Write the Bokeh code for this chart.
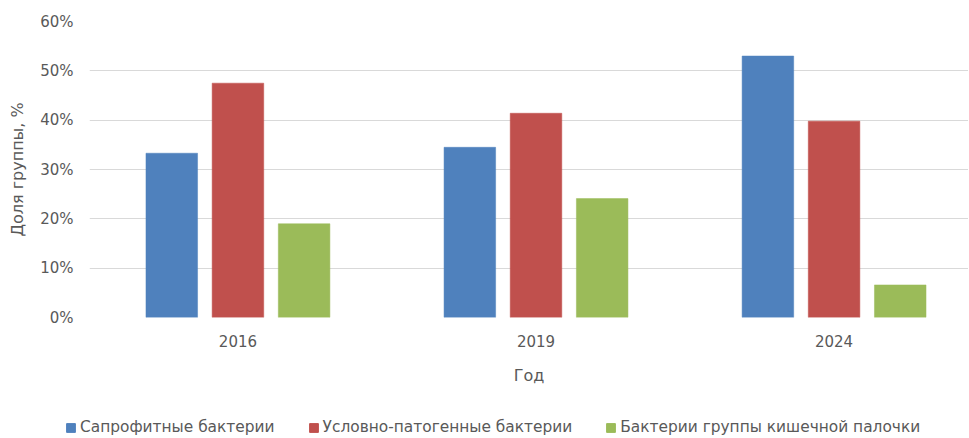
from bokeh.plotting import figure
from bokeh.layouts import column, row
from bokeh.models import (ColumnDataSource, Range1d, FixedTicker, PrintfTickFormatter,
                          Legend, LegendItem)
from bokeh.transform import dodge
from bokeh.embed import file_html
from bokeh.resources import INLINE

# ---- data (percent) ----
years = ["2016", "2019", "2024"]
saprophytic = [33.3, 34.5, 53.0]
opportunistic = [47.5, 41.4, 39.8]
coliform = [19.0, 24.1, 6.6]
series_names = ["Сапрофитные бактерии", "Условно-патогенные бактерии",
                "Бактерии группы кишечной палочки"]
colors = ["#4F81BD", "#C0504D", "#9BBB59"]
y_ticks = [0, 10, 20, 30, 40, 50, 60]

src = ColumnDataSource(dict(x=list(range(len(years))), sap=saprophytic,
                            opp=opportunistic, col=coliform))

FONT = "DejaVu Sans"
TXT = "#595959"
W = 968

p = figure(width=W, height=400, output_backend="svg", toolbar_location=None,
           x_range=Range1d(-0.498, 2.451), y_range=Range1d(0, 60),
           min_border_left=89, min_border_right=0, min_border_top=21,
           min_border_bottom=83)
p.outline_line_color = None
p.background_fill_color = "white"
p.border_fill_color = "white"

offs = [-0.222, 0.0, 0.222]
fields = ["sap", "opp", "col"]
for f, o, c in zip(fields, offs, colors):
    p.vbar(x=dodge("x", o, range=p.x_range), top=f, width=0.173, bottom=0,
           source=src, fill_color=c, line_color=c, line_width=0.5)

# grid
p.xgrid.grid_line_color = None
p.ygrid.grid_line_color = "#D9D9D9"
p.ygrid.grid_line_width = 1
p.ygrid.ticker = FixedTicker(ticks=y_ticks)

# y axis
ya = p.yaxis[0]
ya.ticker = FixedTicker(ticks=y_ticks)
ya.formatter = PrintfTickFormatter(format="%d%%")
ya.axis_line_color = None
ya.major_tick_line_color = None
ya.minor_tick_line_color = None
ya.major_tick_in = 0
ya.major_tick_out = 0
ya.major_label_standoff = 16
ya.major_label_text_font = FONT
ya.major_label_text_font_size = "15px"
ya.major_label_text_color = TXT
ya.axis_label = "Доля группы, %"
ya.axis_label_text_font = FONT
ya.axis_label_text_font_size = "16px"
ya.axis_label_text_font_style = "normal"
ya.axis_label_text_color = TXT
ya.axis_label_standoff = 10

# x axis
xa = p.xaxis[0]
xa.ticker = FixedTicker(ticks=list(range(len(years))))
xa.major_label_overrides = {i: y for i, y in enumerate(years)}
xa.axis_line_color = None
xa.major_tick_line_color = None
xa.minor_tick_line_color = None
xa.major_tick_in = 0
xa.major_tick_out = 0
xa.major_label_standoff = 17
xa.major_label_text_font = FONT
xa.major_label_text_font_size = "15px"
xa.major_label_text_color = TXT
xa.axis_label = "Год"
xa.axis_label_text_font = FONT
xa.axis_label_text_font_size = "16px"
xa.axis_label_text_font_style = "normal"
xa.axis_label_text_color = TXT
xa.axis_label_standoff = 16

# legend strip (separate figure without axes; swatch renderers lie outside its view)
lf = figure(width=W, height=36, output_backend="svg", toolbar_location=None,
            x_range=Range1d(100, 101), y_range=Range1d(100, 101),
            x_axis_location=None, y_axis_location=None,
            min_border_left=0, min_border_right=0, min_border_top=0, min_border_bottom=0)
lf.grid.visible = False
lf.outline_line_color = None
lrs = []
for f, c in zip(fields, colors):
    lrs.append(lf.vbar(x="x", top=f, width=0.2, source=src,
                       fill_color=c, line_color=c))
legend = Legend(items=[LegendItem(label=n, renderers=[r]) for n, r in zip(series_names, lrs)],
                orientation="horizontal", location=(65, 0),
                glyph_width=11, glyph_height=11, label_height=16,
                label_standoff=4, spacing=33, padding=0, margin=0,
                label_text_font=FONT, label_text_font_size="15.4px",
                label_text_color=TXT, border_line_color=None,
                background_fill_alpha=0)
lf.add_layout(legend, "center")

layout = column(p, row(lf, spacing=0), spacing=0)
open("out.html", "w").write(file_html(layout, INLINE))
